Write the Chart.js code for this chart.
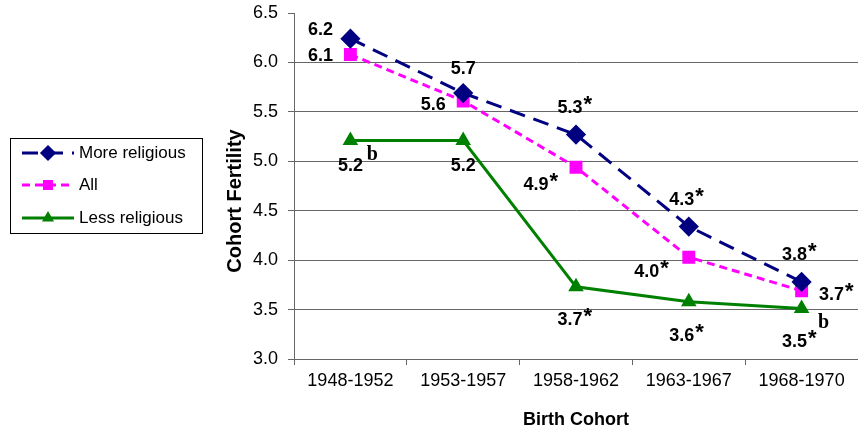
<!DOCTYPE html>
<html>
<head>
<meta charset="utf-8">
<script src="https://cdn.jsdelivr.net/npm/chart.js@4.4.0/dist/chart.umd.min.js"></script>
<style>
  html, body { margin: 0; padding: 0; background: #fff; overflow: hidden; }
  canvas { display: block; }
</style>
</head>
<body>
<canvas id="grafico" width="858" height="431"></canvas>
<script>
// data
var cohorts = ["1948-1952", "1953-1957", "1958-1962", "1963-1967", "1968-1970"];
var masReligiosos = [6.24, 5.69, 5.27, 4.34, 3.78];
var todos = [6.08, 5.61, 4.94, 4.03, 3.69];
var menosReligiosos = [5.21, 5.21, 3.73, 3.58, 3.51];
var yTicks = [3.0, 3.5, 4.0, 4.5, 5.0, 5.5, 6.0, 6.5];

// printed value labels and their marks
var etqMas = ["6.2", "5.7", "5.3", "4.3", "3.8"];
var marcaMas = ["", "", "*", "*", "*"];
var etqTodos = ["6.1", "5.6", "4.9", "4.0", "3.7"];
var marcaTodos = ["", "", "*", "*", "*"];
var etqMenos = ["5.2", "5.2", "3.7", "3.6", "3.5"];
var marcaMenos = ["b", "", "*", "*", "*b"];

// where each label sits relative to its point (px)
var offMas = [[-30, -9], [0, -24], [-6, -27], [-7, -27], [-7, -27]];
var offTodos = [[-30, 2], [-30, 4], [-40, 18], [-42, 15], [30, 4]];
var offMenos = [[0, 26], [0, 26], [-6, 33], [-7, 34], [-7, 33]];

var etiquetas = [
    { t: etqMas, m: marcaMas, o: offMas },
    { t: etqTodos, m: marcaTodos, o: offTodos },
    { t: etqMenos, m: marcaMenos, o: offMenos }
];

var FUENTE = "Arial, 'Liberation Sans', sans-serif";

var pluginEtiquetas = {
    id: "etiquetas",
    afterDatasetsDraw: function (chart) {
        var ctx = chart.ctx;
        ctx.save();
        ctx.fillStyle = "#000";
        ctx.textBaseline = "middle";
        etiquetas.forEach(function (e, di) {
            var meta = chart.getDatasetMeta(di);
            meta.data.forEach(function (pt, i) {
                var x = pt.x + e.o[i][0];
                var y = pt.y + e.o[i][1];
                ctx.font = "bold 18px " + FUENTE;
                ctx.textAlign = "center";
                ctx.fillText(e.t[i], x, y);
                var w = ctx.measureText(e.t[i]).width;
                if (e.m[i].indexOf("*") >= 0) {
                    ctx.font = "bold 22px " + FUENTE;
                    ctx.textAlign = "left";
                    ctx.fillText("*", x + w / 2 + 1, y - 3);
                }
                if (e.m[i].indexOf("b") >= 0) {
                    ctx.font = "bold 20px 'Liberation Serif', 'DejaVu Serif', serif";
                    ctx.textAlign = "center";
                    ctx.fillText("b", pt.x + 22, pt.y + 14);
                }
            });
        });
        ctx.restore();
    }
};

var pluginLeyenda = {
    id: "leyenda",
    afterDraw: function (chart) {
        var ctx = chart.ctx;
        ctx.save();
        ctx.strokeStyle = "#000";
        ctx.lineWidth = 1;
        ctx.strokeRect(10.5, 138.5, 192, 95);
        var filas = [153, 185, 218];
        chart.data.datasets.forEach(function (ds, i) {
            var y = filas[i];
            ctx.strokeStyle = ds.borderColor;
            ctx.lineWidth = ds.borderWidth;
            ctx.setLineDash(ds.borderDash || []);
            ctx.beginPath();
            ctx.moveTo(22, y);
            ctx.lineTo(74, y);
            ctx.stroke();
            ctx.setLineDash([]);
            ctx.fillStyle = ds.pointBackgroundColor;
            Chart.helpers.drawPoint(ctx, {
                pointStyle: ds.pointStyle,
                radius: ds.pointRadius - 2,
                rotation: 0,
                borderWidth: 1
            }, 48, y);
            ctx.fillStyle = "#000";
            ctx.font = "17px " + FUENTE;
            ctx.textAlign = "left";
            ctx.textBaseline = "middle";
            ctx.fillText(ds.label, 79, y);
        });
        // y axis title
        ctx.translate(235, 201);
        ctx.rotate(-Math.PI / 2);
        ctx.font = "bold 20px " + FUENTE;
        ctx.textAlign = "center";
        ctx.textBaseline = "middle";
        ctx.fillText("Cohort Fertility", 0, 0);
        ctx.restore();
    }
};

function cargaGrafico() {
    var datos = {
        labels: cohorts,
        datasets: [{
            label: "More religious",
            data: masReligiosos,
            borderColor: "#000080",
            backgroundColor: "#000080",
            pointBackgroundColor: "#000080",
            pointBorderColor: "#000080",
            borderWidth: 3,
            borderDash: [16, 9],
            pointStyle: "rectRot",
            pointRadius: 8
        }, {
            label: "All",
            data: todos,
            borderColor: "#FF00FF",
            backgroundColor: "#FF00FF",
            pointBackgroundColor: "#FF00FF",
            pointBorderColor: "#FF00FF",
            borderWidth: 3,
            borderDash: [8, 5],
            pointStyle: "rect",
            pointRadius: 7
        }, {
            label: "Less religious",
            data: menosReligiosos,
            borderColor: "#008000",
            backgroundColor: "#008000",
            pointBackgroundColor: "#008000",
            pointBorderColor: "#008000",
            borderWidth: 3,
            pointStyle: "triangle",
            pointRadius: 6
        }]
    };
    var lienzo = document.getElementById("grafico").getContext("2d");
    new Chart(lienzo, {
        type: "line",
        data: datos,
        plugins: [pluginEtiquetas, pluginLeyenda],
        options: {
            responsive: false,
            animation: false,
            layout: { autoPadding: false, padding: { left: 225, top: 13, right: 0, bottom: 0 } },
            plugins: {
                legend: { display: false },
                tooltip: { enabled: false }
            },
            elements: { line: { tension: 0 } },
            scales: {
                x: {
                    offset: true,
                    afterFit: function (s) {
                        s.height = 72;
                        s.paddingLeft = 0;
                        s.paddingRight = 0;
                    },
                    grid: {
                        offset: true,
                        drawOnChartArea: false,
                        tickLength: 6,
                        tickColor: "#666"
                    },
                    border: { color: "#666", width: 1 },
                    ticks: {
                        color: "#000",
                        padding: 5,
                        font: { family: FUENTE, size: 18 }
                    },
                    title: {
                        display: true,
                        text: "Birth Cohort",
                        color: "#000",
                        padding: { top: 12, bottom: 0 },
                        font: { family: FUENTE, size: 18, weight: "bold" }
                    }
                },
                y: {
                    min: yTicks[0],
                    max: yTicks[yTicks.length - 1],
                    afterFit: function (s) {
                        s.width = 69;
                        s.paddingTop = 0;
                        s.paddingBottom = 0;
                    },
                    afterBuildTicks: function (s) {
                        s.ticks = yTicks.map(function (v) { return { value: v }; });
                    },
                    grid: {
                        color: function (c) {
                            return c.tick && c.tick.value === 6.5 ? "rgba(0,0,0,0)" : "#666";
                        },
                        tickColor: "#666",
                        tickLength: 6
                    },
                    border: { color: "#666", width: 1 },
                    ticks: {
                        color: "#000",
                        padding: 10,
                        font: { family: FUENTE, size: 18 },
                        callback: function (v) { return Number(v).toFixed(1); }
                    }
                }
            }
        }
    });
}

window.onload = function () {
    "use strict";
    cargaGrafico();
};
</script>
</body>
</html>
